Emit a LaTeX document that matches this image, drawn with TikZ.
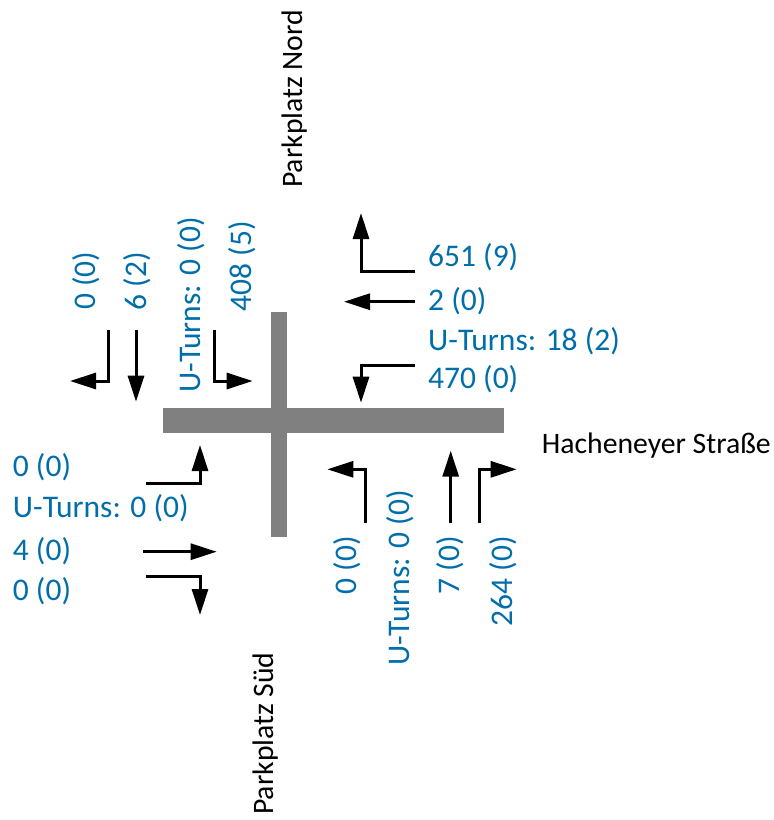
\documentclass[tikz,border=0pt]{standalone}
\usepackage{fontspec}
\setmainfont{Carlito}
\usetikzlibrary{arrows.meta}
\definecolor{cntblue}{RGB}{0,110,170}
\definecolor{roadgray}{RGB}{128,128,128}
\tikzset{
  flow/.style={line width=3pt, -{Triangle[length=26pt,width=16pt]}},
  cnt/.style={text=cntblue, font=\fontsize{31.5}{36}\selectfont, inner sep=0pt},
  cntv/.style={cnt, rotate=90},
  street/.style={text=black, font=\fontsize{29.7}{34}\selectfont, inner sep=0pt},
  road/.style={fill=roadgray, draw=none}
}
\begin{document}
\begin{tikzpicture}[x=1pt,y=-1pt]
\useasboundingbox (0,0) rectangle (774,820);
% road
\fill[road] (271,312) rectangle (287,537);
\fill[road] (163,408) rectangle (504,433);
% street names
\node[street, rotate=90, anchor=base west] (nord) at (302,188) {Parkplatz Nord};
\node[street, rotate=90, anchor=base west] (sued) at (273,815) {Parkplatz Süd};
\node[street, anchor=base west] (hach) at (541.7,453.3) {Hacheneyer Straße};
% north approach
\node[cntv, anchor=base west] (n1) at (95,310) {0 (0)};
\node[cntv, anchor=base west] (n2) at (146,310.7) {6 (2)};
\node[cntv, anchor=base west] (nu) at (200,393) {U-Turns: 0 (0)};
\node[cntv, anchor=base west] (n3) at (251,311.7) {408 (5)};
\draw[flow] (108.3,330) -- (108.3,381) -- (70,381);
\draw[flow] (136,330) -- (136,401.7);
\draw[flow] (214.3,330) -- (214.3,381) -- (252.7,381);
% east approach
\node[cnt, anchor=base west] (e1) at (428,266.7) {651 (9)};
\node[cnt, anchor=base west] (e2) at (428,310) {2 (0)};
\node[cnt, anchor=base west] (eu) at (428,350) {U-Turns: 18 (2)};
\node[cnt, anchor=base west] (e3) at (428,388.3) {470 (0)};
\draw[flow] (415,271.7) -- (361,271.7) -- (361,213);
\draw[flow] (415,301.7) -- (344,301.7);
\draw[flow] (415,365) -- (361,365) -- (361,402.7);
% west approach
\node[cnt, anchor=base west] (w1) at (12.7,476.7) {0 (0)};
\node[cnt, anchor=base west] (wu) at (12.7,517.3) {U-Turns: 0 (0)};
\node[cnt, anchor=base west] (w2) at (12.7,560) {4 (0)};
\node[cnt, anchor=base west] (w3) at (12.7,600) {0 (0)};
\draw[flow] (145.7,483.3) -- (200,483.3) -- (200,445);
\draw[flow] (143,551.7) -- (216.7,551.7);
\draw[flow] (145.7,576.7) -- (200,576.7) -- (200,615);
% south approach
\node[cntv, anchor=base east] (s1) at (356,536) {0 (0)};
\node[cntv, anchor=base east] (su) at (409,490) {U-Turns: 0 (0)};
\node[cntv, anchor=base east] (s2) at (459,536) {7 (0)};
\node[cntv, anchor=base east] (s3) at (512.7,536) {264 (0)};
\draw[flow] (365,523.3) -- (365,469.3) -- (327.3,469.3);
\draw[flow] (450.7,523.3) -- (450.7,450.7);
\draw[flow] (479,523.3) -- (479,469.3) -- (516.7,469.3);
\end{tikzpicture}
\end{document}
